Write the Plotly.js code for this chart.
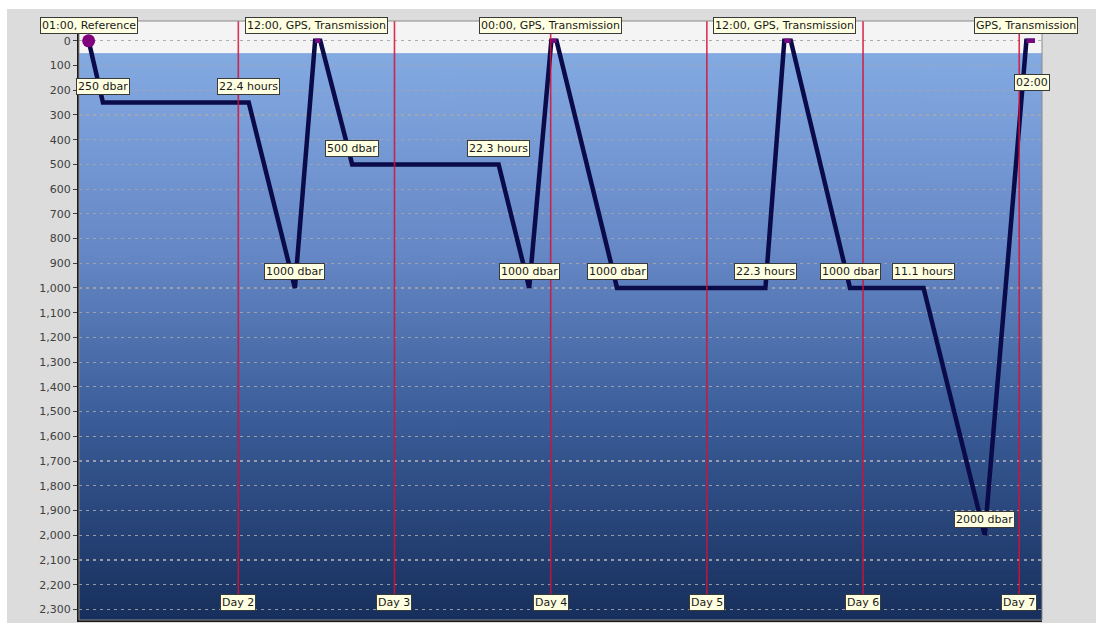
<!DOCTYPE html>
<html>
<head>
<meta charset="utf-8">
<script src="https://cdn.plot.ly/plotly-3.0.1.min.js"></script>
<style>
  html, body { margin: 0; padding: 0; background: #ffffff; }
  #chart { position: absolute; left: 7px; top: 9px; width: 1089px; height: 614px; }
</style>
</head>
<body>
<div id="chart"></div>
<script>
// ---- Data (hours from Day 1 00:00, depth in dbar) ----
const profileHours  = [1, 3.2, 25.6, 32.7, 35.8, 36.6, 41.5, 64.0, 68.7, 72.1, 72.9, 82.2, 105.0, 107.9, 108.9, 118.0, 129.3, 138.7, 145.1, 146.4];
const profileDepths = [0, 250, 250, 1000, 0, 0, 500, 500, 1000, 0, 0, 1000, 1000, 0, 0, 1000, 1000, 2000, 0, 0];

const surfaceHours  = [35.8, 36.6, null, 72.1, 72.9, null, 107.9, 108.9, null, 145.1, 146.4];
const surfaceDepths = [0, 0, null, 0, 0, null, 0, 0, null, 0, 0];

const startHour = [1];
const startDepth = [0];

const labelTexts  = ["250 dbar", "22.4 hours", "1000 dbar", "500 dbar", "22.3 hours", "1000 dbar", "1000 dbar", "22.3 hours", "1000 dbar", "11.1 hours", "2000 dbar", "02:00"];
const labelHours  = [3.2, 25.6, 32.7, 41.5, 64.0, 68.7, 82.2, 105.0, 118.0, 129.3, 138.7, 146.0];
const labelDepths = [250, 250, 1000, 500, 500, 1000, 1000, 1000, 1000, 1000, 2000, 235];

const eventTexts = ["01:00, Reference", "12:00, GPS, Transmission", "00:00, GPS, Transmission", "12:00, GPS, Transmission", "GPS, Transmission"];
const eventHours = [1, 36, 72, 108, 145.1];

const dayTexts = ["Day 2", "Day 3", "Day 4", "Day 5", "Day 6", "Day 7"];
const dayHours = [24, 48, 72, 96, 120, 144];

const xRange = [-0.48, 147.5];
const yRange = [2343, -80];
const surfaceBandDepth = 50;

// ---- Background gradient image ----
function gradientURL() {
  const c = document.createElement('canvas');
  c.width = 4; c.height = 600;
  const g = c.getContext('2d');
  const grd = g.createLinearGradient(0, 0, 0, 600);
  grd.addColorStop(0.0, '#84aae2');
  grd.addColorStop(0.35, '#6688c6');
  grd.addColorStop(0.65, '#3a5c98');
  grd.addColorStop(1.0, '#172f5c');
  g.fillStyle = grd;
  g.fillRect(0, 0, 4, 600);
  return c.toDataURL('image/png');
}
const bandTop = (yRange[0] - surfaceBandDepth) / (yRange[0] - yRange[1]);

const labelFont = { family: 'DejaVu Sans, Tahoma, sans-serif', size: 11, color: '#1a1a1a' };
const boxStyle = { bgcolor: '#ffffe1', bordercolor: '#3a3a3a', borderwidth: 1, borderpad: 1, showarrow: false, font: labelFont };

const annotations = [];
labelTexts.forEach((t, i) => {
  annotations.push(Object.assign({ text: t, x: labelHours[i], y: labelDepths[i], xref: 'x', yref: 'y', yshift: 16, xanchor: 'center', yanchor: 'middle' }, boxStyle));
});
eventTexts.forEach((t, i) => {
  annotations.push(Object.assign({ text: t, x: eventHours[i], y: 0.9933, xref: 'x', yref: 'paper', xanchor: 'center', yanchor: 'middle' }, boxStyle));
});
dayTexts.forEach((t, i) => {
  annotations.push(Object.assign({ text: t, x: dayHours[i], y: 0.030, xref: 'x', yref: 'paper', xanchor: 'center', yanchor: 'middle' }, boxStyle));
});

const shapes = dayHours.map(h => ({
  type: 'line', xref: 'x', yref: 'paper', x0: h, x1: h, y0: 0.03, y1: 1,
  line: { color: 'rgba(215,15,55,0.85)', width: 1.6 }, layer: 'above'
}));
shapes.push({ type: 'rect', xref: 'paper', yref: 'paper', x0: 0, x1: 1, y0: 0, y1: 1, line: { color: '#8a8a8a', width: 1 }, layer: 'above' });

const traces = [
  { x: profileHours, y: profileDepths, type: 'scatter', mode: 'lines', line: { color: '#0b0b4a', width: 4.5 }, hoverinfo: 'skip' },
  { x: surfaceHours, y: surfaceDepths, type: 'scatter', mode: 'lines', line: { color: '#7a0a80', width: 4.5 }, connectgaps: false, hoverinfo: 'skip' },
  { x: startHour, y: startDepth, type: 'scatter', mode: 'markers', marker: { color: '#800080', size: 13 }, hoverinfo: 'skip' }
];

const layout = {
  width: 1089, height: 614,
  margin: { l: 72, r: 54, t: 12, b: 3 },
  paper_bgcolor: '#dcdcdc',
  plot_bgcolor: '#f4f4f4',
  showlegend: false,
  font: { family: 'DejaVu Sans, Tahoma, sans-serif', size: 11, color: '#4a4a4a' },
  xaxis: { range: xRange, showgrid: false, zeroline: false, showticklabels: false, ticks: '',
           showline: true, linecolor: '#1a1a1a', linewidth: 2, mirror: false, fixedrange: true },
  yaxis: { range: yRange, tick0: 0, dtick: 100, tickformat: ',d', ticks: 'outside', ticklen: 4, tickcolor: '#404040',
           showline: true, linecolor: '#1a1a1a', linewidth: 2, zeroline: false,
           showgrid: true, gridcolor: 'rgba(165,165,170,0.9)', griddash: '3px,4px', gridwidth: 1.2,
           tickfont: { family: 'DejaVu Sans, Tahoma, sans-serif', size: 11, color: '#404040' }, fixedrange: true },
  images: [{ source: gradientURL(), xref: 'paper', yref: 'paper', x: 0, y: bandTop, sizex: 1, sizey: bandTop,
             xanchor: 'left', yanchor: 'top', sizing: 'stretch', layer: 'below' }],
  shapes: shapes,
  annotations: annotations
};

Plotly.newPlot('chart', traces, layout, { displayModeBar: false, staticPlot: true });
</script>
</body>
</html>
